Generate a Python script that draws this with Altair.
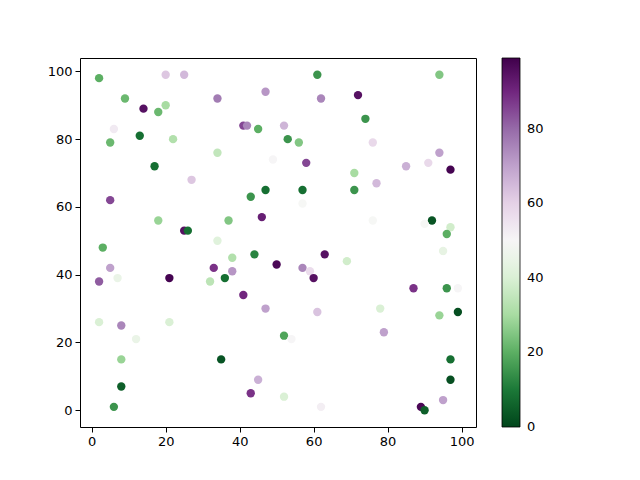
import altair as alt
import pandas as pd

# scatter values
xs = [2, 20, 25, 61, 94, 9, 14, 20, 18, 34, 47, 72, 62, 74, 6, 41, 42, 45, 52, 13,
      5, 22, 53, 56, 76, 34, 94, 49, 58, 91, 85, 17, 97, 71, 27, 77, 47, 57, 71, 43,
      5, 57, 46, 18, 37, 76, 92, 90, 97, 25, 26, 96, 34, 3, 95, 44, 63, 38, 50, 69,
      5, 33, 57, 38, 59, 7, 21, 36, 60, 2, 32, 87, 96, 99, 41, 47, 78, 94, 99, 61,
      2, 8, 21, 79, 12, 52, 54, 8, 35, 97, 45, 97, 8, 43, 6, 52, 62, 95, 89, 90]
ys = [98, 99, 99, 99, 99, 92, 89, 90, 88, 92, 94, 93, 92, 86, 83, 84, 84, 83, 84, 81,
      79, 80, 80, 79, 79, 76, 76, 74, 73, 73, 72, 72, 71, 70, 68, 67, 65, 65, 65, 63,
      62, 61, 57, 56, 56, 56, 56, 55, 54, 53, 53, 52, 50, 48, 47, 46, 46, 45, 43, 44,
      42, 42, 42, 41, 41, 39, 39, 39, 39, 38, 38, 36, 36, 36, 34, 30, 30, 28, 29, 29,
      26, 25, 26, 23, 21, 22, 21, 15, 15, 15, 9, 9, 7, 5, 1, 4, 1, 3, 1, 0]
cs = [20, 62, 65, 15, 25, 22, 95, 30, 22, 77, 72, 95, 75, 15, 53, 85, 75, 20, 66, 8,
      22, 32, 15, 25, 58, 35, 70, 50, 85, 58, 67, 8, 98, 30, 62, 65, 8, 8, 15, 15,
      85, 49, 92, 28, 25, 49, 3, 49, 38, 95, 8, 20, 42, 20, 44, 12, 95, 32, 97, 38,
      70, 88, 75, 72, 57, 45, 98, 8, 95, 82, 34, 88, 15, 50, 90, 70, 40, 28, 2, 63,
      40, 75, 40, 70, 45, 18, 50, 28, 3, 8, 67, 2, 5, 88, 15, 40, 52, 70, 97, 5]

# PRGn, reversed so that 0 is dark green
prgn_r = ["#00441b", "#1b7837", "#5aae61", "#a6dba0", "#d9f0d3", "#f7f7f7",
          "#e7d4e8", "#c2a5cf", "#9970ab", "#762a83", "#40004b"]
# start a hair below 0 so the "0" label sits centred on the bar's bottom edge
stops = [-0.1 + i * 9.91 for i in range(11)]

df = pd.DataFrame({"x": xs, "y": ys, "c": cs})

font = "DejaVu Sans"

chart = alt.Chart(df).mark_circle(size=70, opacity=1).encode(
    x=alt.X("x:Q").scale(domain=[-3.16, 103.9], nice=False, zero=False).axis(
        values=[0, 20, 40, 60, 80, 100], title=None, grid=False),
    y=alt.Y("y:Q").scale(domain=[-4.95, 103.95], nice=False, zero=False).axis(
        values=[0, 20, 40, 60, 80, 100], title=None, grid=False),
    color=alt.Color("c:Q").scale(domain=stops, range=prgn_r, interpolate="rgb").legend(
        title=None, orient="none", legendX=422, legendY=0, direction="vertical",
        gradientLength=369, gradientThickness=18, values=[0, 20, 40, 60, 80],
        gradientStrokeColor="black", gradientStrokeWidth=0.8,
        labelFont=font, labelFontSize=13, labelColor="black", labelOffset=7,
        labelBaseline="middle"),
).properties(
    width=396, height=369,
    autosize=alt.AutoSizeParams(type="none"),
    padding={"left": 72, "top": 50, "right": 150, "bottom": 45},
).configure_view(
    stroke="black", strokeWidth=1
).configure_axis(
    domain=False, tickColor="black", tickSize=5, labelFont=font, labelFontSize=13,
    labelColor="black", labelPadding=3
)

chart.save("out.html", embed_options={"renderer": "svg", "actions": False})
